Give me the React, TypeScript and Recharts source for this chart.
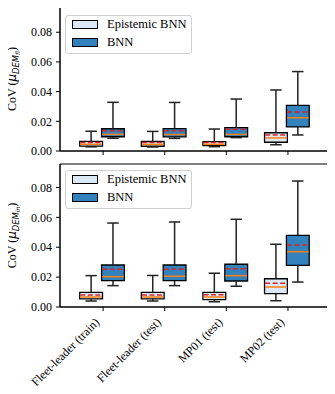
import React from 'react';
import { ComposedChart, XAxis, YAxis, ReferenceArea, ReferenceLine } from 'recharts';

// box stats: [lower whisker, q1, median, q3, upper whisker, mean]
type Box = [number, number, number, number, number, number];

const categories = ['Fleet-leader (train)', 'Fleet-leader (test)', 'MP01 (test)', 'MP02 (test)'];
const positions = [1, 2, 3, 4];
const yTicks = [0, 0.02, 0.04, 0.06, 0.08];

const topEpistemic: Box[] = [
    [0.0028, 0.0033, 0.0045, 0.0065, 0.0133, 0.0058],
    [0.0027, 0.0032, 0.0044, 0.0064, 0.0132, 0.0057],
    [0.0029, 0.0036, 0.0045, 0.0063, 0.0148, 0.0057],
    [0.0042, 0.0059, 0.0088, 0.0123, 0.0411, 0.0108],
];
const topBnn: Box[] = [
    [0.0086, 0.0096, 0.0112, 0.015, 0.0328, 0.0137],
    [0.0085, 0.0095, 0.0111, 0.0151, 0.0327, 0.0136],
    [0.009, 0.0096, 0.0112, 0.0157, 0.035, 0.0146],
    [0.0108, 0.0162, 0.0224, 0.0308, 0.0535, 0.0263],
];
const bottomEpistemic: Box[] = [
    [0.004, 0.0054, 0.0067, 0.0098, 0.021, 0.008],
    [0.004, 0.0054, 0.0067, 0.0098, 0.0211, 0.008],
    [0.0035, 0.0049, 0.0067, 0.0098, 0.0226, 0.0082],
    [0.0042, 0.0089, 0.0134, 0.0189, 0.042, 0.0159],
];
const bottomBnn: Box[] = [
    [0.0143, 0.0176, 0.0203, 0.0281, 0.0562, 0.0252],
    [0.0143, 0.0176, 0.0206, 0.0281, 0.0569, 0.0252],
    [0.0139, 0.0174, 0.021, 0.0286, 0.0587, 0.0256],
    [0.0167, 0.0279, 0.037, 0.048, 0.0843, 0.0415],
];

const SERIF = '"Liberation Serif", "Times New Roman", serif';
const X_DOMAIN: [number, number] = [0.3, 4.65];
const BOX_W = 0.37;
const CAP_W = 0.185;

function boxAreas(stats: Box[], offset: number, fill: string, key: string) {
    return stats.map((s, i) => {
        const c = positions[i] + offset;
        return (
            <ReferenceArea
                key={`${key}-box-${i}`}
                x1={c - BOX_W / 2}
                x2={c + BOX_W / 2}
                y1={s[1]}
                y2={s[3]}
                fill={fill}
                fillOpacity={1}
                stroke="#000"
                strokeWidth={1.3}
            />
        );
    });
}

function boxLines(stats: Box[], offset: number, key: string) {
    const out: React.ReactElement[] = [];
    stats.forEach((s, i) => {
        const [lo, q1, med, q3, hi, mean] = s;
        const c = positions[i] + offset;
        const w = { stroke: '#222', strokeWidth: 1.5 };
        out.push(<ReferenceLine key={`${key}-wl-${i}`} segment={[{ x: c, y: lo }, { x: c, y: q1 }]} {...w} />);
        out.push(<ReferenceLine key={`${key}-wh-${i}`} segment={[{ x: c, y: q3 }, { x: c, y: hi }]} {...w} />);
        out.push(<ReferenceLine key={`${key}-cl-${i}`} segment={[{ x: c - CAP_W / 2, y: lo }, { x: c + CAP_W / 2, y: lo }]} {...w} />);
        out.push(<ReferenceLine key={`${key}-ch-${i}`} segment={[{ x: c - CAP_W / 2, y: hi }, { x: c + CAP_W / 2, y: hi }]} {...w} />);
        out.push(
            <ReferenceLine
                key={`${key}-med-${i}`}
                segment={[{ x: c - BOX_W / 2 + 0.01, y: med }, { x: c + BOX_W / 2 - 0.01, y: med }]}
                stroke="#ff7f0e"
                strokeWidth={1.5}
            />
        );
        out.push(
            <ReferenceLine
                key={`${key}-mean-${i}`}
                segment={[{ x: c - BOX_W / 2 + 0.01, y: mean }, { x: c + BOX_W / 2 - 0.01, y: mean }]}
                stroke="#d62728"
                strokeWidth={1.5}
                strokeDasharray="5 2.5"
            />
        );
    });
    return out;
}

const YLabel = ({ viewBox, sub }: any) => {
    const cx = 16;
    const cy = viewBox.y + viewBox.height / 2;
    return (
        <text
            x={cx}
            y={cy}
            transform={`rotate(-90, ${cx}, ${cy})`}
            textAnchor="middle"
            fontFamily={SERIF}
            fontSize={12}
            fill="#000"
        >
            CoV (
            <tspan fontFamily="DejaVu Sans" fontStyle="italic">μ</tspan>
            <tspan fontFamily="DejaVu Sans" fontStyle="italic" fontSize={8.4} dy={2.5}>DEM</tspan>
            <tspan fontFamily="DejaVu Sans" fontStyle="italic" fontSize={6} dy={1.8}>{sub}</tspan>
            <tspan dy={-4.3}>)</tspan>
        </text>
    );
};

const XTick = ({ x, y, payload }: any) => {
    const label = categories[positions.indexOf(payload.value)];
    const ax = x - 3;
    const ay = y + 12;
    return (
        <text
            x={ax}
            y={ay}
            transform={`rotate(-45, ${ax}, ${ay})`}
            textAnchor="end"
            fontFamily={SERIF}
            fontSize={12}
            fill="#000"
        >
            {label}
        </text>
    );
};

interface PanelProps {
    epistemic: Box[];
    bnn: Box[];
    yMax: number;
    height: number;
    marginTop: number;
    xAxisHeight: number;
    showLabels: boolean;
    sub: string;
}

function Panel({ epistemic, bnn, yMax, height, marginTop, xAxisHeight, showLabels, sub }: PanelProps) {
    return (
        <ComposedChart width={335} height={height} margin={{ top: marginTop, right: 7, bottom: 0, left: 0 }}>
            <XAxis
                type="number"
                dataKey="x"
                domain={X_DOMAIN}
                ticks={positions}
                allowDataOverflow
                height={xAxisHeight}
                stroke="#000"
                tickSize={4}
                tickMargin={0}
                tick={showLabels ? <XTick /> : () => <g />}
            />
            <YAxis
                type="number"
                domain={[0, yMax]}
                ticks={yTicks}
                allowDataOverflow
                width={60}
                stroke="#000"
                tickSize={4}
                tickMargin={4}
                tick={{ fill: '#000', fontFamily: SERIF, fontSize: 12 }}
                tickFormatter={(v: number) => v.toFixed(2)}
                label={{ content: (p: any) => <YLabel {...p} sub={sub} /> }}
            />
            <ReferenceArea x1={X_DOMAIN[0]} x2={X_DOMAIN[1]} y1={0} y2={yMax} fill="none" stroke="#000" strokeWidth={1} />
            {boxAreas(epistemic, -0.195, '#dbe9f6', 'e')}
            {boxAreas(bnn, 0.16, '#3182bd', 'b')}
            {boxLines(epistemic, -0.195, 'e')}
            {boxLines(bnn, 0.16, 'b')}
        </ComposedChart>
    );
}

const LegendBox = ({ top }: { top: number }) => {
    const patch = (fill: string) => ({
        position: 'absolute' as const,
        left: 6,
        width: 24,
        height: 7,
        background: fill,
        border: '1px solid #000',
    });
    const text = {
        position: 'absolute' as const,
        left: 41,
        fontFamily: SERIF,
        fontSize: 12.5,
        lineHeight: '14px',
        color: '#000',
        whiteSpace: 'nowrap' as const,
    };
    return (
        <div
            style={{
                position: 'absolute',
                left: 65,
                top,
                width: 125,
                height: 37,
                border: '1px solid #d0d0d0',
                borderRadius: 3,
                background: 'rgba(255,255,255,0.8)',
            }}
        >
            <div style={{ ...patch('#dbe9f6'), top: 4 }} />
            <div style={{ ...text, top: 1 }}>Epistemic BNN</div>
            <div style={{ ...patch('#3182bd'), top: 22 }} />
            <div style={{ ...text, top: 19 }}>BNN</div>
        </div>
    );
};

export default function App() {
    return (
        <div style={{ position: 'relative', width: 335, height: 394, margin: -8, background: '#fff' }}>
            <div style={{ position: 'absolute', left: 0, top: 0 }}>
                <Panel
                    epistemic={topEpistemic}
                    bnn={topBnn}
                    yMax={0.097}
                    height={160}
                    marginTop={7}
                    xAxisHeight={9}
                    showLabels={false}
                    sub="fl"
                />
            </div>
            <div style={{ position: 'absolute', left: 0, top: 155 }}>
                <Panel
                    epistemic={bottomEpistemic}
                    bnn={bottomBnn}
                    yMax={0.0957}
                    height={239}
                    marginTop={9}
                    xAxisHeight={87}
                    showLabels={true}
                    sub="in"
                />
            </div>
            <LegendBox top={15} />
            <LegendBox top={170} />
        </div>
    );
}
